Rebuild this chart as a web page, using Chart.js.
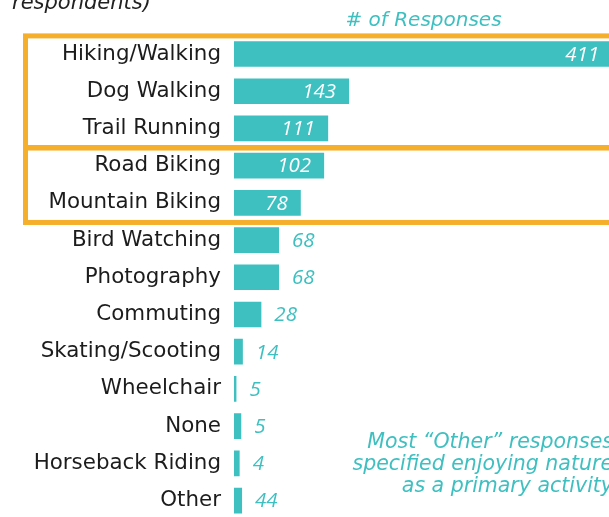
<!DOCTYPE html>
<html>
<head>
<meta charset="utf-8">
<script src="https://cdn.jsdelivr.net/npm/chart.js@4/dist/chart.umd.min.js"></script>
<style>
  html, body { margin: 0; padding: 0; overflow: hidden; background: #ffffff; }
  canvas { display: block; }
</style>
</head>
<body>
<canvas id="c" width="609" height="545"></canvas>
<script>
// ---- data ----
const categories = [
  "Hiking/Walking", "Dog Walking", "Trail Running", "Road Biking", "Mountain Biking",
  "Bird Watching", "Photography", "Commuting", "Skating/Scooting", "Wheelchair",
  "None", "Horseback Riding", "Other"
];
// printed number of responses
const responseCounts = [411, 143, 111, 102, 78, 68, 68, 28, 14, 5, 5, 4, 44];
// bar lengths as drawn in the picture (same scale as Dog Walking = 143)
const barLengths = [470, 143, 117, 112, 83, 56, 56, 34, 11, 3, 9, 7, 10];
// highlighted category groups (first index, last index)
const highlightGroups = [[0, 2], [3, 4]];
const axisTitle = "# of Responses";
const subtitleFragment = "respondents)";
const noteLines = ["Most \u201COther\u201D responses", "specified enjoying nature", "as a primary activity"];

const TEAL = "#3EBFC0";
const ORANGE = "#F5AF2B";
const FONT = "'DejaVu Sans', sans-serif";
const NUM_FONT = "'Open Sans', 'Noto Sans', sans-serif";

const extrasPlugin = {
  id: "extras",
  afterDatasetsDraw(chart) {
    const ctx = chart.ctx;
    const meta = chart.getDatasetMeta(0);
    const area = chart.chartArea;
    ctx.save();
    // value labels
    ctx.font = "italic 20.5px " + NUM_FONT;
    ctx.textBaseline = "middle";
    meta.data.forEach((bar, i) => {
      const w = bar.x - bar.base;
      const txt = String(responseCounts[i]);
      if (w > 55) {
        ctx.fillStyle = "#ffffff";
        ctx.textAlign = "right";
        ctx.fillText(txt, bar.x - 13, bar.y + 1);
      } else {
        ctx.fillStyle = TEAL;
        ctx.textAlign = "left";
        ctx.fillText(txt, bar.x + 13, bar.y + 1);
      }
    });
    // highlight boxes
    const ys = chart.scales.y;
    const step = ys.getPixelForValue(1) - ys.getPixelForValue(0);
    ctx.strokeStyle = ORANGE;
    ctx.lineWidth = 5;
    highlightGroups.forEach(([a, b]) => {
      const top = ys.getPixelForValue(a) - step / 2 + 0.5;
      const bottom = ys.getPixelForValue(b) + step / 2 + 1;
      ctx.strokeRect(25.5, top, chart.width + 20, bottom - top);
    });
    // axis title
    ctx.font = "italic 20px " + FONT;
    ctx.fillStyle = TEAL;
    ctx.textAlign = "center";
    ctx.textBaseline = "alphabetic";
    ctx.fillText(axisTitle, (area.left + area.right) / 2 + 2, 26);
    // cut subtitle fragment
    ctx.font = "italic 21px " + FONT;
    ctx.fillStyle = "#222222";
    ctx.textAlign = "left";
    ctx.fillText(subtitleFragment, 12, 9);
    // note
    ctx.font = "italic 20.5px " + FONT;
    ctx.fillStyle = TEAL;
    ctx.textAlign = "right";
    noteLines.forEach((line, i) => {
      ctx.fillText(line, 613, 448 + i * 22);
    });
    ctx.restore();
  }
};

new Chart(document.getElementById("c"), {
  type: "bar",
  data: {
    labels: categories,
    datasets: [{
      data: barLengths,
      backgroundColor: TEAL,
      borderWidth: 0,
      categoryPercentage: 1,
      barPercentage: 0.69
    }]
  },
  options: {
    indexAxis: "y",
    responsive: false,
    animation: false,
    layout: { padding: { top: 35.4, right: 0, bottom: 0, left: 0 } },
    plugins: {
      legend: { display: false },
      tooltip: { enabled: false },
      title: { display: false }
    },
    scales: {
      x: {
        display: false,
        min: 0,
        max: 466
      },
      y: {
        grid: { display: false, drawTicks: false },
        border: { display: false },
        ticks: {
          color: "#1c1c1c",
          font: { family: FONT, size: 21.4 },
          padding: 13
        },
        afterFit(scale) { scale.width = 234; }
      }
    }
  },
  plugins: [extrasPlugin]
});
</script>
</body>
</html>
